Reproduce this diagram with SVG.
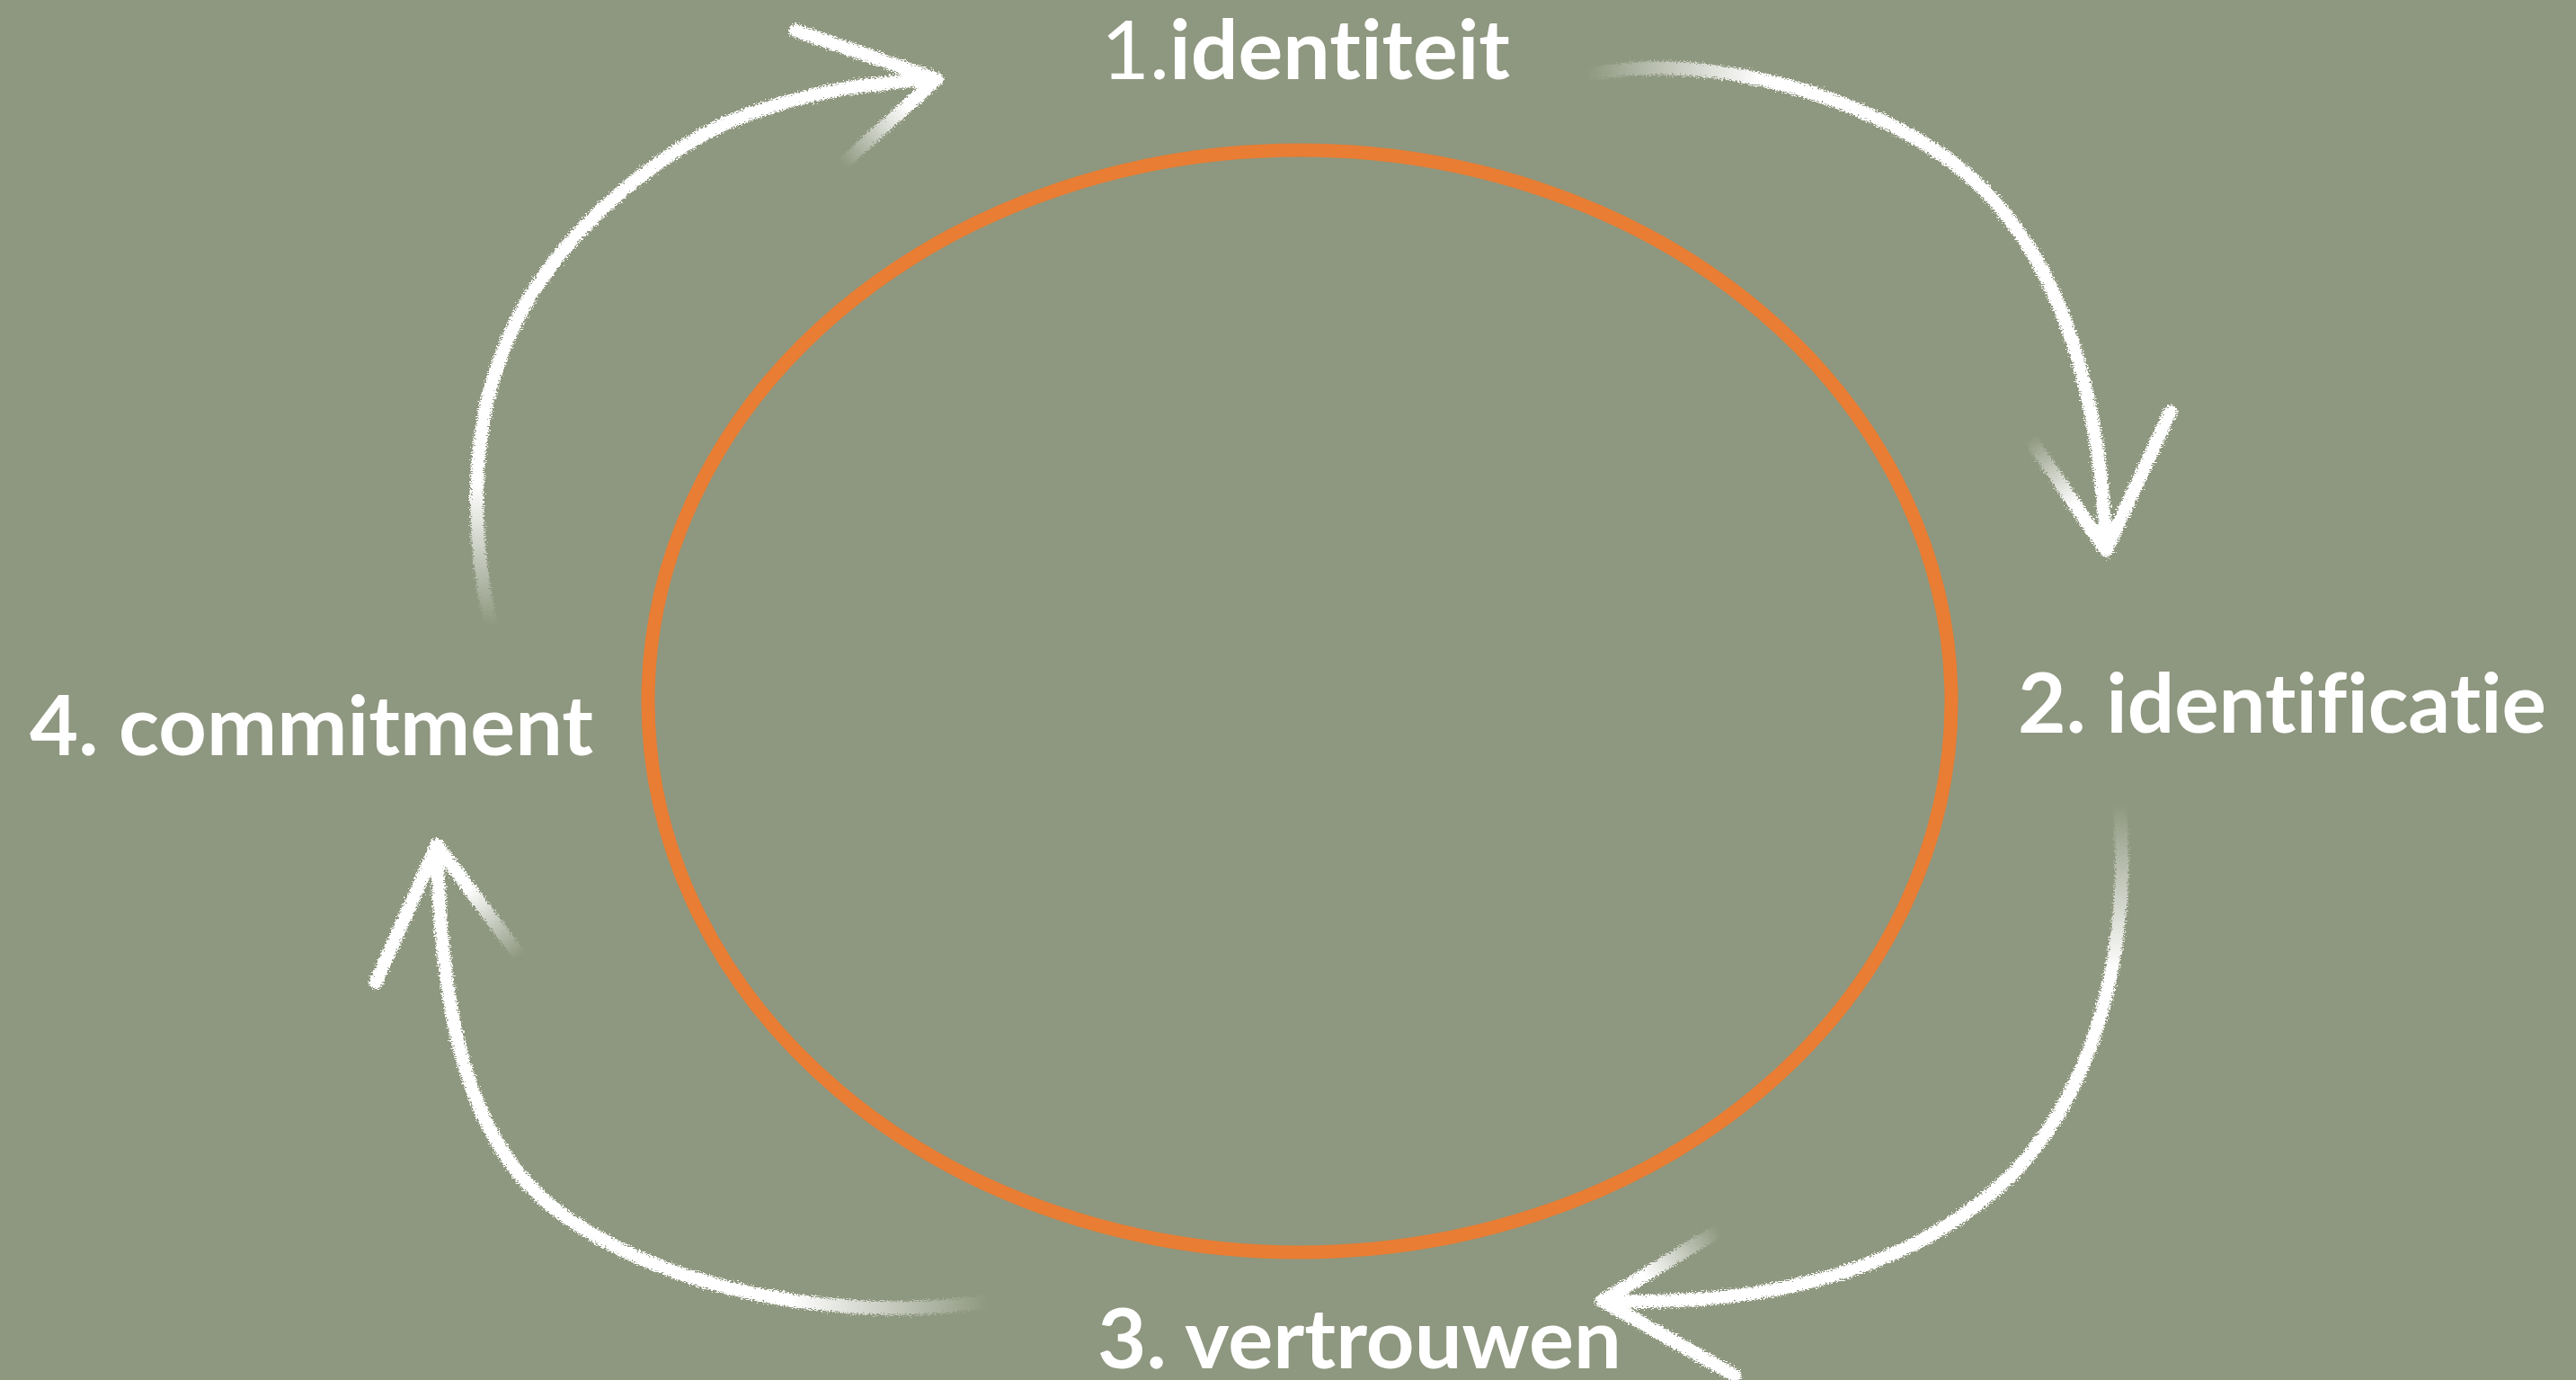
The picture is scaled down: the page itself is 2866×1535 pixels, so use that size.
<svg xmlns="http://www.w3.org/2000/svg" width="2866" height="1535" viewBox="0 0 2866 1535">
  <style>
    .lbl { font-family: Lato, "Open Sans", "Noto Sans", sans-serif; font-weight: 700; font-size: 92px; fill: #ffffff; font-variant-ligatures: none; font-feature-settings: "liga" 0, "clig" 0; }
    .thin { font-weight: 400; }
    .chalk { fill: none; stroke-width: 15; stroke-linecap: round; stroke-linejoin: round; }
  </style>
  <defs>
    <filter id="rough" x="-10%" y="-10%" width="120%" height="120%">
      <feTurbulence type="fractalNoise" baseFrequency="0.45 0.9" numOctaves="3" seed="5" result="n"/>
      <feDisplacementMap in="SourceGraphic" in2="n" scale="10" xChannelSelector="R" yChannelSelector="G"/>
    </filter>
    <linearGradient id="g1" gradientUnits="userSpaceOnUse" x1="0" y1="695" x2="0" y2="540">
      <stop offset="0" stop-color="#fff" stop-opacity="0"/><stop offset="1" stop-color="#fff" stop-opacity="1"/>
    </linearGradient>
    <linearGradient id="g1b" gradientUnits="userSpaceOnUse" x1="940" y1="185" x2="1010" y2="120">
      <stop offset="0" stop-color="#fff" stop-opacity="0"/><stop offset="1" stop-color="#fff" stop-opacity="1"/>
    </linearGradient>
    <linearGradient id="g2" gradientUnits="userSpaceOnUse" x1="1765" y1="0" x2="1960" y2="0">
      <stop offset="0" stop-color="#fff" stop-opacity="0"/><stop offset="1" stop-color="#fff" stop-opacity="1"/>
    </linearGradient>
    <linearGradient id="g2b" gradientUnits="userSpaceOnUse" x1="2258" y1="488" x2="2310" y2="560">
      <stop offset="0" stop-color="#fff" stop-opacity="0"/><stop offset="1" stop-color="#fff" stop-opacity="1"/>
    </linearGradient>
    <linearGradient id="g3" gradientUnits="userSpaceOnUse" x1="0" y1="895" x2="0" y2="1080">
      <stop offset="0" stop-color="#fff" stop-opacity="0"/><stop offset="1" stop-color="#fff" stop-opacity="1"/>
    </linearGradient>
    <linearGradient id="g3b" gradientUnits="userSpaceOnUse" x1="1912" y1="1368" x2="1830" y2="1420">
      <stop offset="0" stop-color="#fff" stop-opacity="0"/><stop offset="1" stop-color="#fff" stop-opacity="1"/>
    </linearGradient>
    <linearGradient id="g4" gradientUnits="userSpaceOnUse" x1="1100" y1="0" x2="880" y2="0">
      <stop offset="0" stop-color="#fff" stop-opacity="0"/><stop offset="1" stop-color="#fff" stop-opacity="1"/>
    </linearGradient>
    <linearGradient id="g4b" gradientUnits="userSpaceOnUse" x1="578" y1="1064" x2="520" y2="990">
      <stop offset="0" stop-color="#fff" stop-opacity="0"/><stop offset="1" stop-color="#fff" stop-opacity="1"/>
    </linearGradient>
  </defs>

  <rect width="2866" height="1535" fill="#8e977f"/>

  <g id="cycle">
    <ellipse cx="1446" cy="780" rx="725" ry="613" fill="none" stroke="#e97d33" stroke-width="15"/>
  </g>

  <g id="connectors" filter="url(#rough)">
    <g id="arrow-4-1">
      <path class="chalk" stroke="url(#g1)" d="M 545 690 C 525 600 522 480 560 390 C 602 280 705 188 805 138 C 885 104 962 92 1042 88"/>
      <path class="chalk" stroke="#fff" d="M 885 34 L 1042 88"/>
      <path class="chalk" stroke="url(#g1b)" d="M 1042 88 L 938 182"/>
    </g>
    <g id="arrow-1-2">
      <path class="chalk" stroke="url(#g2)" d="M 1770 82 C 1900 60 2055 100 2165 175 C 2275 255 2335 400 2343 610"/>
      <path class="chalk" stroke="#fff" d="M 2415 458 L 2343 612"/>
      <path class="chalk" stroke="url(#g2b)" d="M 2343 612 L 2260 490"/>
    </g>
    <g id="arrow-2-3">
      <path class="chalk" stroke="url(#g3)" d="M 2358 895 C 2372 1060 2330 1210 2240 1305 C 2150 1395 2000 1455 1783 1447"/>
      <path class="chalk" stroke="#fff" d="M 1783 1447 L 1930 1530"/>
      <path class="chalk" stroke="url(#g3b)" d="M 1783 1447 L 1910 1370"/>
    </g>
    <g id="arrow-3-4">
      <path class="chalk" stroke="url(#g4)" d="M 1097 1448 C 900 1475 700 1420 600 1330 C 510 1245 490 1100 486 940"/>
      <path class="chalk" stroke="#fff" d="M 418 1093 L 486 940"/>
      <path class="chalk" stroke="url(#g4b)" d="M 486 940 L 577 1062"/>
    </g>
  </g>

  <g id="node-1">
    <text class="lbl" x="1225" y="88" textLength="455" lengthAdjust="spacingAndGlyphs"><tspan class="thin">1.</tspan>identiteit</text>
  </g>
  <g id="node-2">
    <text class="lbl" x="2245" y="815" textLength="588" lengthAdjust="spacingAndGlyphs">2. identificatie</text>
  </g>
  <g id="node-3">
    <text class="lbl" x="1221" y="1522" textLength="583" lengthAdjust="spacingAndGlyphs">3. vertrouwen</text>
  </g>
  <g id="node-4">
    <text class="lbl" x="33" y="840" textLength="627" lengthAdjust="spacingAndGlyphs">4. commitment</text>
  </g>
</svg>
